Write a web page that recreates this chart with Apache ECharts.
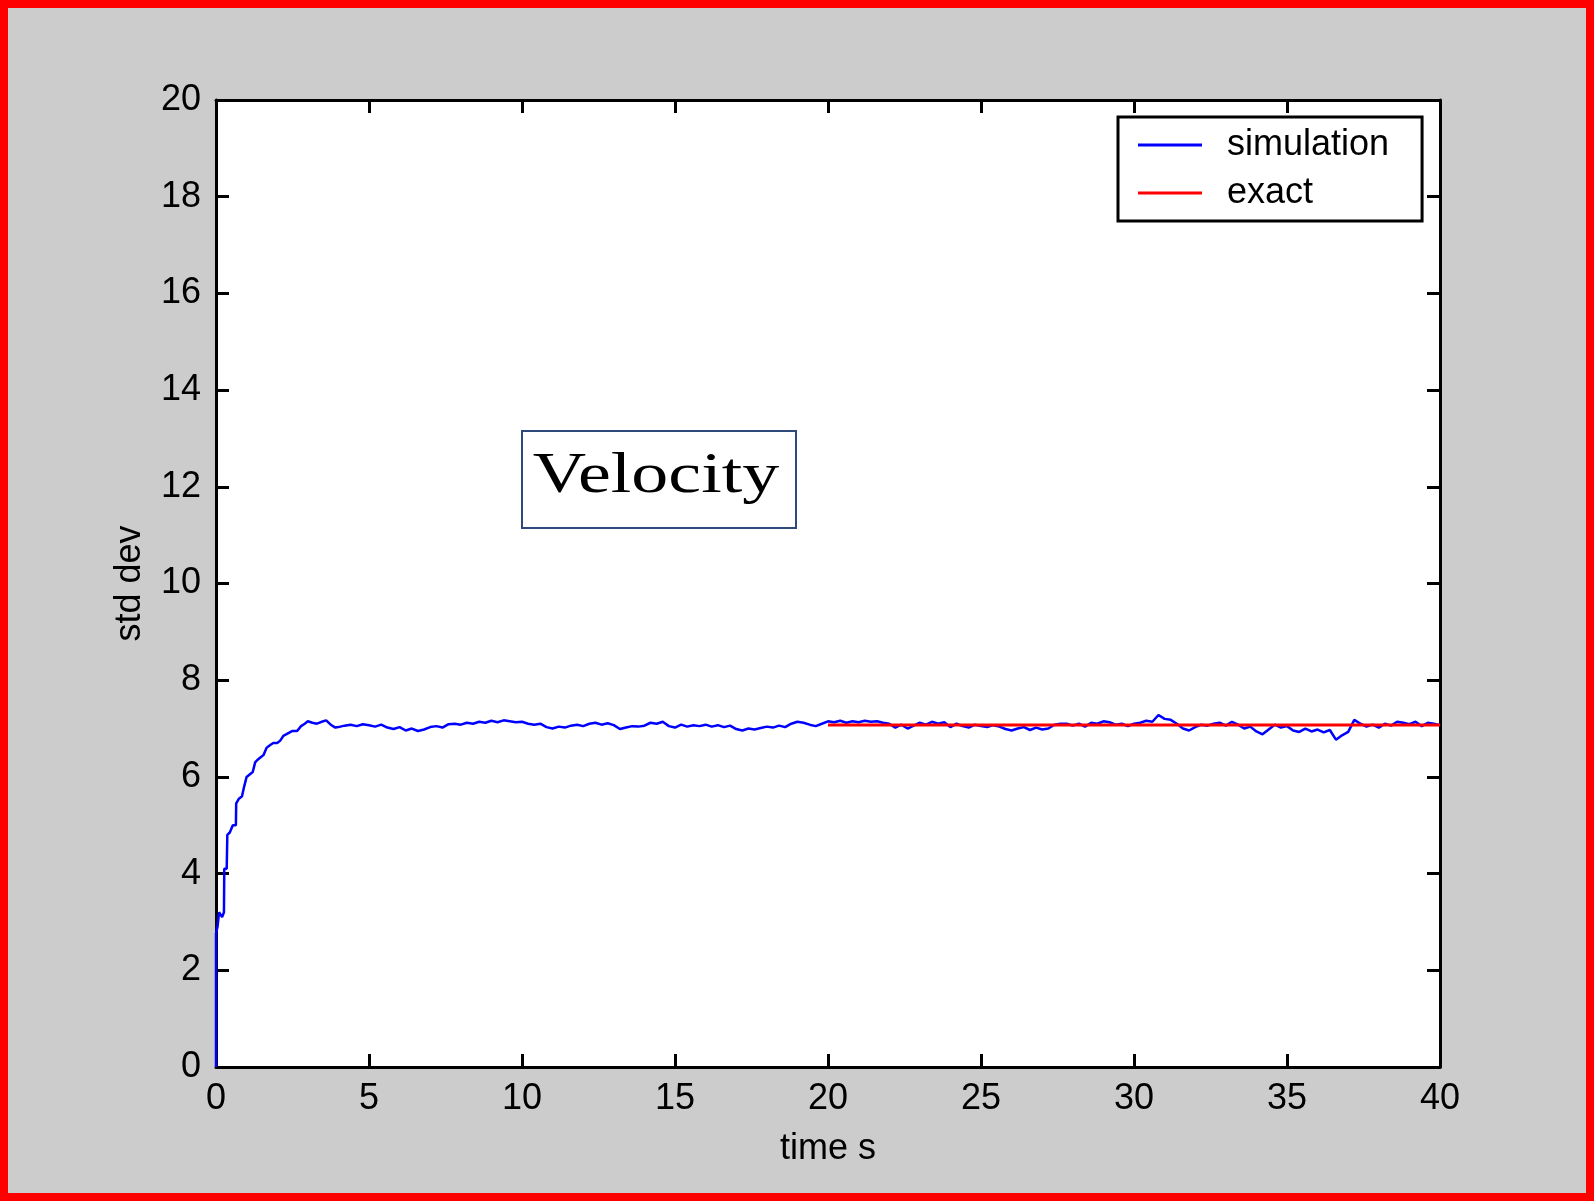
<!DOCTYPE html>
<html>
<head>
    <meta charset="utf-8">
    <script type="text/javascript" src="https://cdn.jsdelivr.net/npm/echarts@6/dist/echarts.min.js"></script>
    <title>velocity std dev</title>
    <style>
        body {
            margin: 0;
            background: #cccccc;
        }
        #main {
            width: 1594px;
            height: 1201px;
        }
        #frame {
            position: absolute;
            left: 0;
            top: 0;
            width: 1594px;
            height: 1201px;
            box-sizing: border-box;
            border: 8px solid #ff0000;
            pointer-events: none;
        }
    </style>
</head>

<body>

<div id="main"></div>
<div id="frame"></div>

<script type="text/javascript">
    var xTicks = [0, 5, 10, 15, 20, 25, 30, 35, 40];
    var yTicks = [0, 2, 4, 6, 8, 10, 12, 14, 16, 18, 20];

    // simulated std dev, start-up part (t, value)
    var simRise = [
        [0, 0], [0, 2.76], [0.05, 2.9], [0.1, 3.2], [0.2, 3.1], [0.26, 3.2], [0.27, 4.1],
        [0.35, 4.1], [0.37, 4.8], [0.45, 4.85], [0.55, 5.0], [0.65, 5.0], [0.66, 5.45],
        [0.75, 5.55], [0.85, 5.6], [0.92, 5.8], [1.0, 6.0], [1.1, 6.05], [1.2, 6.1],
        [1.28, 6.3], [1.35, 6.35], [1.45, 6.4], [1.55, 6.45], [1.65, 6.6], [1.75, 6.65],
        [1.87, 6.7], [2.0, 6.7], [2.1, 6.75], [2.2, 6.85], [2.35, 6.9], [2.5, 6.95],
        [2.65, 6.95], [2.78, 7.05], [2.9, 7.1], [3.0, 7.15], [3.15, 7.12], [3.3, 7.1],
        [3.45, 7.14], [3.6, 7.17], [3.75, 7.08], [3.9, 7.02], [4.0, 7.03]
    ];

    // simulated std dev after the start-up (t, value)
    var simSteady = [
        [4.2, 7.06], [4.4, 7.08], [4.6, 7.05], [4.8, 7.09], [5.0, 7.07], [5.2, 7.04], [5.4, 7.08],
        [5.6, 7.02], [5.8, 6.99], [6.0, 7.03], [6.2, 6.96], [6.4, 7.0], [6.6, 6.95], [6.8, 6.98],
        [7.0, 7.03], [7.2, 7.05], [7.4, 7.02], [7.6, 7.09], [7.8, 7.1], [8.0, 7.08], [8.2, 7.12],
        [8.4, 7.1], [8.6, 7.14], [8.8, 7.12], [9.0, 7.16], [9.2, 7.13], [9.4, 7.17], [9.6, 7.15],
        [9.8, 7.13], [10.0, 7.14], [10.2, 7.1], [10.4, 7.08], [10.6, 7.1], [10.8, 7.03], [11.0, 7.0],
        [11.2, 7.04], [11.4, 7.02], [11.6, 7.06], [11.8, 7.08], [12.0, 7.05], [12.2, 7.1], [12.4, 7.12],
        [12.6, 7.08], [12.8, 7.11], [13.0, 7.07], [13.2, 6.99], [13.4, 7.02], [13.6, 7.05], [13.8, 7.04],
        [14.0, 7.06], [14.2, 7.12], [14.4, 7.1], [14.6, 7.14], [14.8, 7.05], [15.0, 7.02], [15.2, 7.08],
        [15.4, 7.04], [15.6, 7.07], [15.8, 7.05], [16.0, 7.08], [16.2, 7.04], [16.4, 7.07], [16.6, 7.03],
        [16.8, 7.06], [17.0, 6.99], [17.2, 6.96], [17.4, 7.0], [17.6, 6.98], [17.8, 7.01], [18.0, 7.04],
        [18.2, 7.02], [18.4, 7.06], [18.6, 7.03], [18.8, 7.1], [19.0, 7.14], [19.2, 7.12], [19.4, 7.08],
        [19.6, 7.05], [19.8, 7.1], [20.0, 7.15], [20.2, 7.13], [20.4, 7.16], [20.6, 7.12], [20.8, 7.15],
        [21.0, 7.13], [21.2, 7.16], [21.4, 7.14], [21.6, 7.15], [21.8, 7.12], [22.0, 7.1], [22.2, 7.02],
        [22.4, 7.08], [22.6, 7.0], [22.8, 7.06], [23.0, 7.12], [23.2, 7.08], [23.4, 7.14], [23.6, 7.1],
        [23.8, 7.13], [24.0, 7.03], [24.2, 7.1], [24.4, 7.05], [24.6, 7.02], [24.8, 7.08], [25.0, 7.05],
        [25.2, 7.03], [25.4, 7.07], [25.6, 7.04], [25.8, 6.99], [26.0, 6.96], [26.2, 7.0], [26.4, 7.03],
        [26.6, 6.97], [26.8, 7.02], [27.0, 6.98], [27.2, 7.0], [27.4, 7.08], [27.6, 7.1], [27.8, 7.1],
        [28.0, 7.06], [28.2, 7.1], [28.4, 7.04], [28.6, 7.12], [28.8, 7.1], [29.0, 7.15], [29.2, 7.13],
        [29.4, 7.08], [29.6, 7.1], [29.8, 7.05], [30.0, 7.1], [30.2, 7.12], [30.4, 7.16], [30.6, 7.14],
        [30.8, 7.28], [31.0, 7.2], [31.2, 7.18], [31.4, 7.1], [31.6, 7.0], [31.8, 6.96], [32.0, 7.03],
        [32.2, 7.08], [32.4, 7.06], [32.6, 7.1], [32.8, 7.12], [33.0, 7.06], [33.2, 7.14], [33.4, 7.08],
        [33.6, 7.0], [33.8, 7.04], [34.0, 6.94], [34.2, 6.88], [34.4, 6.98], [34.6, 7.08], [34.8, 7.02],
        [35.0, 7.05], [35.2, 6.96], [35.4, 6.93], [35.6, 7.0], [35.8, 6.94], [36.0, 6.98], [36.2, 6.92],
        [36.4, 6.97], [36.6, 6.77], [36.8, 6.86], [37.0, 6.93], [37.2, 7.18], [37.4, 7.1], [37.6, 7.04],
        [37.8, 7.08], [38.0, 7.02], [38.2, 7.1], [38.4, 7.06], [38.6, 7.14], [38.8, 7.12], [39.0, 7.09],
        [39.2, 7.14], [39.4, 7.05], [39.6, 7.12], [39.8, 7.1], [40.0, 7.07]
    ];

    // exact value sqrt(50), drawn from t = 20
    var exactLine = [[20, 7.071], [40, 7.071]];

    var chart = echarts.init(document.getElementById('main'), null, {renderer: 'canvas'});

    var fontName = '"Liberation Sans", Arial, sans-serif';
    var tickLabel = {fontFamily: fontName, fontSize: 36, color: '#000'};
    var black3 = {color: '#000', width: 3};

    function boxAxis(pos, isX, withLabels) {
        var ticks = isX ? xTicks : yTicks;
        return {
            type: 'value',
            position: pos,
            min: ticks[0],
            max: ticks[ticks.length - 1],
            interval: ticks[1] - ticks[0],
            splitLine: {show: false},
            axisLine: {show: true, onZero: false, lineStyle: black3},
            axisTick: {show: true, inside: true, length: 13, lineStyle: black3},
            axisLabel: withLabels ? Object.assign({margin: isX ? 14 : 15}, tickLabel) : {show: false}
        };
    }

    var xBottom = boxAxis('bottom', true, true);
    xBottom.name = 'time s';
    xBottom.nameLocation = 'middle';
    xBottom.nameGap = 64;
    xBottom.nameTextStyle = tickLabel;

    var yLeft = boxAxis('left', false, true);
    yLeft.name = 'std dev';
    yLeft.nameLocation = 'middle';
    yLeft.nameGap = 68;
    yLeft.nameTextStyle = tickLabel;

    var option = {
        backgroundColor: '#cccccc',
        animation: false,
        grid: {
            left: 216, top: 100, width: 1224, height: 967,
            show: true, backgroundColor: '#ffffff', borderWidth: 0
        },
        xAxis: [xBottom, boxAxis('top', true, false)],
        yAxis: [yLeft, boxAxis('right', false, false)],
        legend: {
            orient: 'vertical',
            left: 1118,
            top: 117,
            width: 304,
            backgroundColor: '#ffffff',
            borderColor: '#000',
            borderWidth: 3,
            borderRadius: 0,
            padding: [10, 33, 10, 20],
            itemGap: 12,
            itemWidth: 64,
            itemHeight: 3,
            textStyle: {fontFamily: fontName, fontSize: 36, color: '#000', padding: [0, 0, 0, 20]},
            data: [
                {name: 'simulation', icon: 'rect'},
                {name: 'exact', icon: 'rect'}
            ]
        },
        graphic: [{
            type: 'group',
            children: [{
                type: 'rect',
                shape: {x: 522, y: 431, width: 274, height: 97},
                style: {fill: '#ffffff', stroke: '#2e4a7a', lineWidth: 2}
            }, {
                type: 'text',
                x: 656,
                y: 477,
                scaleX: 1.32,
                style: {
                    text: 'Velocity',
                    font: '56px "Liberation Serif", "Times New Roman", serif',
                    fill: '#000',
                    align: 'center',
                    verticalAlign: 'middle'
                }
            }]
        }],
        series: [{
            name: 'simulation',
            type: 'line',
            data: simRise.concat(simSteady),
            symbol: 'none',
            color: '#0000ff',
            lineStyle: {color: '#0000ff', width: 2.5}
        }, {
            name: 'exact',
            type: 'line',
            data: exactLine,
            symbol: 'none',
            color: '#ff0000',
            lineStyle: {color: '#ff0000', width: 3}
        }]
    };
    chart.setOption(option);
</script>

</body>

</html>
